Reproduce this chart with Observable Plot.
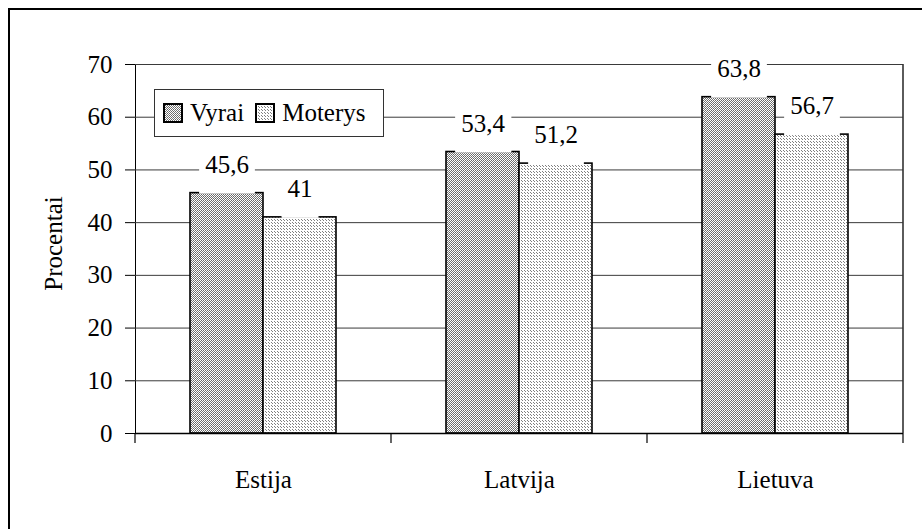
<!DOCTYPE html>
<html><head><meta charset="utf-8">
<script src="https://cdn.jsdelivr.net/npm/d3@7"></script>
<script src="https://cdn.jsdelivr.net/npm/@observablehq/plot@0.6"></script>
<style>
html,body{margin:0;padding:0;background:#fff;}
#wrap{position:relative;width:922px;height:529px;overflow:hidden;font-family:Liberation Serif, serif;}
#outer{position:absolute;left:8px;top:8px;width:960px;height:560px;border-left:2px solid #000;border-top:2px solid #000;pointer-events:none;box-sizing:border-box;}
#legend{position:absolute;left:154px;top:89px;width:230px;height:48px;box-sizing:border-box;border:1px solid #333;background:#fff;display:flex;align-items:center;padding-left:8px;font-size:25px;color:#000;font-family:Liberation Serif, serif;}
#legend .item{display:flex;align-items:center;margin-right:11px;}
#legend svg{margin-right:7px;display:block;}
svg text{font-family:Liberation Serif, serif;}
</style></head><body>
<div id="wrap"><div id="chart"></div><div id="outer"></div><div id="legend"></div></div>
<script>
const countries = ["Estija", "Latvija", "Lietuva"];
const series = ["Vyrai", "Moterys"];
const vyrai = [45.6, 53.4, 63.8];
const moterys = [41, 51.2, 56.7];
const yTicks = [0, 10, 20, 30, 40, 50, 60, 70];
const yLabel = "Procentai";
const patternIds = ["patV", "patM"];
const FONT = "Liberation Serif";

const data = countries.flatMap((c, i) => [
  {country: c, series: series[0], value: vyrai[i]},
  {country: c, series: series[1], value: moterys[i]}
]);
const fmt = v => String(v).replace(".", ",");

const plot = Plot.plot({
  width: 922, height: 529,
  marginLeft: 134, marginRight: 19, marginTop: 64, marginBottom: 96,
  style: {fontFamily: FONT, fontSize: "25px", color: "#000", background: "transparent"},
  fx: {domain: countries, padding: 0, axis: "bottom", tickSize: 0, tickPadding: 37, label: null},
  x: {domain: series, paddingInner: 0, paddingOuter: 0.744, axis: null},
  y: {domain: [0, 70], ticks: yTicks, tickSize: 10, tickPadding: 13, label: null, line: true},
  color: {domain: series, range: patternIds.map(id => `url(#${id})`)},
  marks: [
    Plot.ruleY(yTicks.filter(t => t > 0), {stroke: "#3a3a3a", strokeWidth: 1}),
    Plot.barY(data, {fx: "country", x: "series", y: "value", fill: "series", stroke: "#000", strokeWidth: 1.6}),
    Plot.ruleY([0], {stroke: "#000", strokeWidth: 1.6}),
    Plot.text(data, {fx: "country", x: "series", y: "value", text: d => fmt(d.value), dy: -28.5, fontSize: 25, fill: "#000"})
  ]
});
document.getElementById("chart").appendChild(plot);

const svg = d3.select(plot);
svg.attr("font-family", FONT);

const defs = svg.insert("defs", ":first-child");
const pv = defs.append("pattern").attr("id", "patV").attr("patternUnits", "userSpaceOnUse").attr("width", 2).attr("height", 2);
pv.append("rect").attr("width", 2).attr("height", 2).attr("fill", "#fff");
pv.append("rect").attr("x", 0).attr("y", 0).attr("width", 1).attr("height", 1).attr("fill", "#666");
pv.append("rect").attr("x", 1).attr("y", 1).attr("width", 1).attr("height", 1).attr("fill", "#777");
const pm = defs.append("pattern").attr("id", "patM").attr("patternUnits", "userSpaceOnUse").attr("width", 3).attr("height", 3);
pm.append("rect").attr("width", 3).attr("height", 3).attr("fill", "#fff");
pm.append("rect").attr("x", 0).attr("y", 0).attr("width", 1).attr("height", 1).attr("fill", "#808080");
pm.append("rect").attr("x", 1).attr("y", 1).attr("width", 1).attr("height", 1).attr("fill", "#808080");

// frame right border, category boundary ticks and y label from the library's scales
const fxs = plot.scale("fx"), ys = plot.scale("y");
const bounds = countries.map(c => fxs.apply(c)).concat([fxs.apply(countries[countries.length - 1]) + fxs.bandwidth]);
const y0 = ys.apply(0), yTop = ys.apply(yTicks[yTicks.length - 1]);
const g = svg.append("g");
g.append("line").attr("x1", bounds[bounds.length - 1]).attr("x2", bounds[bounds.length - 1]).attr("y1", yTop).attr("y2", y0).attr("stroke", "#333").attr("stroke-width", 1.6);
bounds.forEach(b => g.append("line").attr("x1", b).attr("x2", b).attr("y1", y0).attr("y2", y0 + 10).attr("stroke", "#000").attr("stroke-width", 1.2));
g.append("text").attr("transform", `translate(${bounds[0] - 73},${(y0 + yTop) / 2 - 5}) rotate(-90)`)
  .attr("text-anchor", "middle").attr("font-size", 25).attr("fill", "#000").text(yLabel);

// white boxes behind value labels (reach down to the bar top)
const labelSet = new Set(data.map(d => fmt(d.value)));
const svgRect = plot.getBoundingClientRect();
svg.selectAll("text").filter(function() { return labelSet.has(this.textContent); }).each(function() {
  const t = this, bb = t.getBBox();
  const inv = t.getScreenCTM().inverse();
  const value = +t.textContent.replace(",", ".");
  const p = new DOMPoint(svgRect.left, svgRect.top + ys.apply(value)).matrixTransform(inv);
  const r = document.createElementNS("http://www.w3.org/2000/svg", "rect");
  r.setAttribute("x", bb.x - 6);
  r.setAttribute("width", bb.width + 12);
  r.setAttribute("y", bb.y - 1);
  r.setAttribute("height", Math.max(0, p.y + 1 - (bb.y - 1)));
  r.setAttribute("fill", "#fff");
  if (t.getAttribute("transform")) r.setAttribute("transform", t.getAttribute("transform"));
  t.parentNode.insertBefore(r, t);
});

// legend
const leg = d3.select("#legend");
series.forEach((s, i) => {
  const it = leg.append("div").attr("class", "item");
  const sw = it.append("svg").attr("width", 20).attr("height", 20);
  sw.append("rect").attr("x", 1).attr("y", 1).attr("width", 18).attr("height", 18).attr("fill", `url(#${patternIds[i]})`).attr("stroke", "#000").attr("stroke-width", 2);
  it.append("span").text(s);
});
</script>
</body></html>
